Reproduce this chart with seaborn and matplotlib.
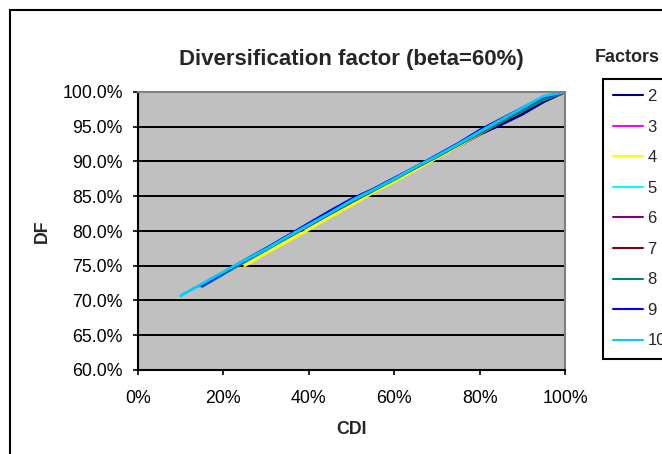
import numpy as np
import pandas as pd
import matplotlib
matplotlib.use("Agg")
import matplotlib.pyplot as plt
import matplotlib.patches as mpatches
from matplotlib.ticker import FuncFormatter, MultipleLocator
import seaborn as sns

# ---- data ----
factors = [2, 3, 4, 5, 6, 7, 8, 9, 10]
colors = ["#000080", "#FF00FF", "#FFFF00", "#00FFFF", "#800080",
          "#800000", "#008080", "#0000FF", "#00CCFF"]

cdi_f2 = [0.50, 0.55, 0.60, 0.65, 0.70, 0.75, 0.80, 0.85, 0.90, 0.95, 1.00]
df_f2 = [0.842, 0.858, 0.874, 0.890, 0.906, 0.922, 0.939, 0.953, 0.968, 0.986, 1.000]

cdi_f3 = [0.333, 0.35, 0.40, 0.45, 0.50, 0.55, 0.60, 0.65, 0.70, 0.75, 0.80, 0.85, 0.90, 0.95, 1.00]
df_f3 = [0.786, 0.791, 0.808, 0.825, 0.841, 0.858, 0.874, 0.891, 0.907, 0.924, 0.941, 0.957, 0.973, 0.989, 1.000]

cdi_f4 = [0.25, 0.30, 0.35, 0.40, 0.45, 0.50, 0.55, 0.60, 0.65, 0.70, 0.75, 0.80, 0.85, 0.90, 0.95, 1.00]
df_f4 = [0.750, 0.768, 0.785, 0.802, 0.820, 0.837, 0.855, 0.871, 0.888, 0.905, 0.922, 0.940, 0.957, 0.973, 0.989, 1.000]

cdi_f5 = [0.20, 0.25, 0.30, 0.35, 0.40, 0.45, 0.50, 0.55, 0.60, 0.65, 0.70, 0.75, 0.80, 0.85, 0.90, 0.95, 1.00]
df_f5 = [0.741, 0.758, 0.775, 0.792, 0.809, 0.826, 0.842, 0.859, 0.875, 0.892, 0.908, 0.925, 0.942, 0.958, 0.974, 0.990, 1.000]

cdi_f6 = [0.167, 0.20, 0.25, 0.30, 0.35, 0.40, 0.45, 0.50, 0.55, 0.60, 0.65, 0.70, 0.75, 0.80, 0.85, 0.90, 0.95, 1.00]
df_f6 = [0.729, 0.740, 0.757, 0.774, 0.792, 0.810, 0.827, 0.843, 0.859, 0.875, 0.892, 0.908, 0.925, 0.942, 0.958, 0.974, 0.990, 1.000]

cdi_f7 = [0.143, 0.15, 0.20, 0.25, 0.30, 0.35, 0.40, 0.45, 0.50, 0.55, 0.60, 0.65, 0.70, 0.75, 0.80, 0.85, 0.90, 0.95, 1.00]
df_f7 = [0.721, 0.723, 0.740, 0.757, 0.774, 0.791, 0.808, 0.825, 0.842, 0.858, 0.875, 0.891, 0.907, 0.924, 0.941, 0.957, 0.973, 0.989, 1.000]

cdi_f8 = [0.15, 0.20, 0.25, 0.30, 0.35, 0.40, 0.45, 0.50, 0.55, 0.60, 0.65, 0.70, 0.75, 0.80, 0.85, 0.90, 0.95, 1.00]
df_f8 = [0.720, 0.738, 0.756, 0.773, 0.791, 0.808, 0.825, 0.842, 0.858, 0.874, 0.891, 0.907, 0.924, 0.941, 0.957, 0.973, 0.989, 1.000]

cdi_f9 = [0.15, 0.20, 0.25, 0.30, 0.35, 0.40, 0.45, 0.50, 0.55, 0.60, 0.65, 0.70, 0.75, 0.80, 0.85, 0.90, 0.95, 1.00]
df_f9 = [0.722, 0.740, 0.758, 0.775, 0.793, 0.811, 0.829, 0.846, 0.860, 0.876, 0.892, 0.909, 0.926, 0.945, 0.961, 0.977, 0.993, 1.000]

cdi_f10 = [0.10, 0.15, 0.20, 0.25, 0.30, 0.35, 0.40, 0.45, 0.50, 0.55, 0.60, 0.65, 0.70, 0.75, 0.80, 0.85, 0.90, 0.95, 1.00]
df_f10 = [0.707, 0.724, 0.741, 0.758, 0.774, 0.792, 0.809, 0.826, 0.844, 0.859, 0.875, 0.892, 0.908, 0.925, 0.943, 0.960, 0.977, 0.994, 1.000]

series_cdi = [cdi_f2, cdi_f3, cdi_f4, cdi_f5, cdi_f6, cdi_f7, cdi_f8, cdi_f9, cdi_f10]
series_df = [df_f2, df_f3, df_f4, df_f5, df_f6, df_f7, df_f8, df_f9, df_f10]

rows = []
for f, xs, ys in zip(factors, series_cdi, series_df):
    for x, y in zip(xs, ys):
        rows.append({"Factors": str(f), "CDI": x, "DF": y})
data = pd.DataFrame(rows)

# ---- style ----
sns.set_style("white")
plt.rcParams["font.family"] = ["Liberation Sans", "DejaVu Sans"]

W, H = 662, 454
fig = plt.figure(figsize=(W / 100, H / 100), dpi=100)
ax = fig.add_axes([138 / W, 1 - 370 / H, (565 - 138) / W, (370 - 92) / H])

hue_order = [str(f) for f in factors]
palette = dict(zip(hue_order, colors))
sns.lineplot(data=data, x="CDI", y="DF", hue="Factors", palette=palette,
             hue_order=hue_order, estimator=None, sort=False,
             linewidth=2.0, ax=ax, legend=True)

ax.set_facecolor("#C0C0C0")
ax.set_xlim(0, 1)
ax.set_ylim(0.6, 1.0)
ax.xaxis.set_major_locator(MultipleLocator(0.2))
ax.yaxis.set_major_locator(MultipleLocator(0.05))
ax.xaxis.set_major_formatter(FuncFormatter(lambda v, p: f"{v*100:.0f}%"))
ax.yaxis.set_major_formatter(FuncFormatter(lambda v, p: f"{v*100:.1f}%"))
ax.set_axisbelow(True)
ax.yaxis.grid(True, color="black", linewidth=1.4)
ax.xaxis.grid(False)

for s in ["top", "right"]:
    ax.spines[s].set_color("#808080")
    ax.spines[s].set_linewidth(1.5)
for s in ["left", "bottom"]:
    ax.spines[s].set_color("black")
    ax.spines[s].set_linewidth(1.5)

ax.tick_params(axis="both", direction="out", length=3.6, width=1.2, color="black",
               labelsize=12.8, labelcolor="black")
ax.tick_params(axis="x", pad=11)
ax.tick_params(axis="y", pad=7.3)
ax.xaxis.set_ticks_position("bottom")
ax.yaxis.set_ticks_position("left")

ax.set_xlabel("CDI", fontsize=12.8, fontweight="bold", labelpad=10)
ax.set_ylabel("DF", fontsize=12.8, fontweight="bold", labelpad=8)
ax.set_title("Diversification factor (beta=60%)", fontsize=16,
             fontweight="bold", pad=19.5)

handles, labels = ax.get_legend_handles_labels()
ax.legend(handles, labels, loc="upper left",
          bbox_to_anchor=(603 / W, 1 - 79 / H), bbox_transform=fig.transFigure,
          frameon=True, fancybox=False, edgecolor="black", framealpha=1,
          borderaxespad=0, fontsize=12, handlelength=1.75, handletextpad=0.3,
          labelspacing=0.93, borderpad=0.62, title=None)
ax.get_legend().get_frame().set_linewidth(1.5)
for h in ax.get_legend().get_lines():
    h.set_linewidth(1.5)

fig.text(595 / W, 1 - 57 / H, "Factors", fontsize=13, fontweight="bold",
         ha="left", va="center")

# outer chart border (extends past the right and bottom edges)
fig.patches.append(mpatches.Rectangle((9.5 / W, -0.2), 1.2, 1.2 - 10.5 / H,
                                      transform=fig.transFigure, fill=False,
                                      edgecolor="black", linewidth=1.5))

fig.savefig("out.png", dpi=100, facecolor="white")
